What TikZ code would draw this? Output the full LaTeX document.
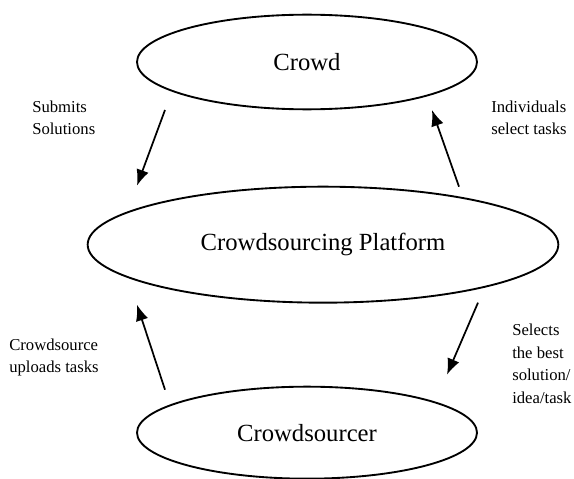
\documentclass[tikz,border=0pt]{standalone}
\usepackage{fontspec}
\setmainfont{Liberation Serif}
\usetikzlibrary{shapes, arrows.meta, calc}

\begin{document}
\begin{tikzpicture}[node distance=137pt]
        \tikzstyle{blob} = [ellipse, minimum width = 255pt, minimum height = 71pt, text centered, draw=black, line width=1.4pt, font=\fontsize{18.5}{22}\selectfont]
        \tikzstyle{bigblob} = [blob, minimum width = 353pt, minimum height = 87pt]
        \tikzstyle{onearrow} = [line width=1.3pt, -{Latex[length=12pt, width=9.5pt]}]
        \tikzstyle{note} = [anchor=west, align=left, inner sep=0pt, font=\fontsize{12.5}{16.9}\selectfont]

        \useasboundingbox (-230.25pt,46.5pt) rectangle (200.25pt,-312pt);

        \node (Crowd) [blob]{Crowd};
        \node (Platform) [bigblob, below of=Crowd, xshift=12pt]{Crowdsourcing Platform};
        \node (Sourcer) [blob, below of=Platform, xshift=-12pt, yshift=-4pt, minimum height=69pt]{Crowdsourcer};

        % arrow ends sit just off the ellipses
        \coordinate (subA) at ($(Crowd)+(-106.5pt,-36pt)$);
        \coordinate (subB) at ($(Platform)+(-139.5pt,44.25pt)$);
        \coordinate (indA) at ($(Platform)+(102pt,43.5pt)$);
        \coordinate (indB) at ($(Crowd)+(93.75pt,-36pt)$);
        \coordinate (upA) at ($(Sourcer)+(-106.5pt,32.25pt)$);
        \coordinate (upB) at ($(Platform)+(-139.5pt,-45pt)$);
        \coordinate (selA) at ($(Platform)+(116.25pt,-43.5pt)$);
        \coordinate (selB) at ($(Sourcer)+(105pt,43.5pt)$);

        \draw[onearrow] (subA) -- (subB);
        \draw[onearrow] (indA) -- (indB);
        \draw[onearrow] (upA) -- (upB);
        \draw[onearrow] (selA) -- (selB);

        \node (subText) [note] at ($(Crowd)+(-206.25pt,-42pt)$) {Submits\\Solutions};
        \node (indText) [note] at ($(Crowd)+(138pt,-42pt)$) {Individuals\\select tasks};
        \node (upText) [note] at ($(Sourcer)+(-223.5pt,56.25pt)$) {Crowdsource\\uploads tasks};
        \node (selText) [note] at ($(Sourcer)+(153.75pt,51.75pt)$) {Selects\\the best\\solution/\\idea/task};

    \end{tikzpicture}
\end{document}
